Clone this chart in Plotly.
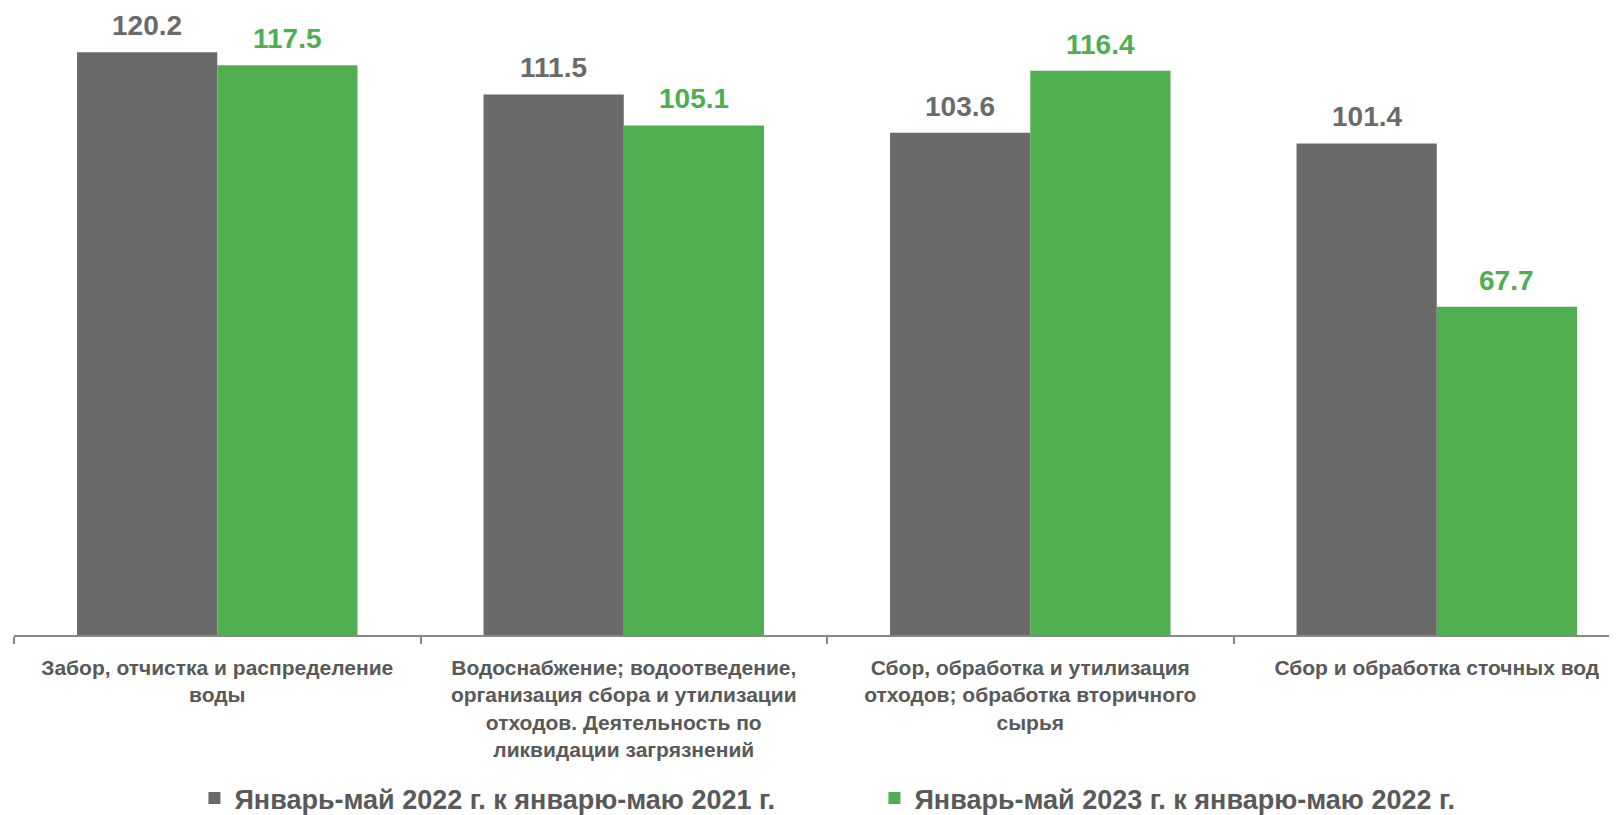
import plotly.graph_objects as go

categories = [
    "Забор, отчистка и распределение<br>воды",
    "Водоснабжение; водоотведение,<br>организация сбора и утилизации<br>отходов. Деятельность по<br>ликвидации загрязнений",
    "Сбор, обработка и утилизация<br>отходов; обработка вторичного<br>сырья",
    "Сбор и обработка сточных вод",
]
series1_name = "Январь-май 2022 г. к январю-маю 2021 г."
series2_name = "Январь-май 2023 г. к январю-маю 2022 г."
series1 = [120.2, 111.5, 103.6, 101.4]
series2 = [117.5, 105.1, 116.4, 67.7]

GRAY = "#6a6a6a"
GREEN = "#4eae50"
TEXT = "#595959"
FONT = "Liberation Sans, Arial, sans-serif"

fig = go.Figure()
fig.add_trace(go.Bar(
    x=categories, y=series1, name="<b>" + series1_name + "</b>",
    marker=dict(color=GRAY, line=dict(width=0)),
))
fig.add_trace(go.Bar(
    x=categories, y=series2, name="<b>" + series2_name + "</b>",
    marker=dict(color=GREEN, line=dict(width=0)),
))

# value labels above bars
for vals, color, shift in ((series1, GRAY, -70), (series2, GREEN, 70)):
    for cat, v in zip(categories, vals):
        fig.add_annotation(
            x=cat, y=v, xref="x", yref="y", text=f"<b>{v:.1f}</b>",
            showarrow=False, xshift=shift, yshift=9, yanchor="bottom",
            font=dict(family=FONT, size=28, color=color),
        )

fig.update_layout(
    width=1617, height=815,
    margin=dict(l=6, r=0, t=0, b=180),
    paper_bgcolor="white", plot_bgcolor="white",
    barmode="group", bargap=0.31, bargroupgap=0,
    font=dict(family=FONT, color=TEXT),
    showlegend=True,
    legend=dict(
        orientation="h", x=0.112, xanchor="left", y=-0.2614, yanchor="middle",
        font=dict(family=FONT, size=27, color=TEXT),
        entrywidth=635, itemwidth=30,
    ),
)
fig.update_xaxes(
    type="category", range=[-0.5, 3.463],
    showline=True, linecolor="#888888", linewidth=1.5,
    ticks="outside", tickson="boundaries", ticklen=7, tickcolor="#888888", tickwidth=1.5,
    tickfont=dict(family=FONT, size=21, color=TEXT),
    tickprefix="<b>", ticksuffix="</b>",
    ticklabelstandoff=13,
    showgrid=False,
)
fig.update_yaxes(visible=False, range=[0, 635 / 4.91], showgrid=False)

fig.write_html("out.html")
